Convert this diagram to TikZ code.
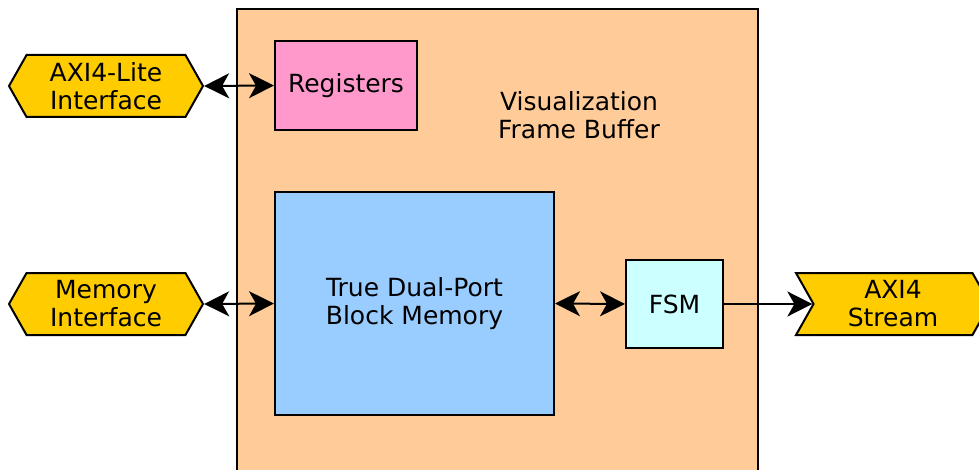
\documentclass[tikz,border=0pt]{standalone}
\usepackage{fontspec}
\setmainfont{DejaVu Sans}
\usepackage{tikz}
\usetikzlibrary{arrows.meta, shapes.symbols}

\definecolor{peach}{HTML}{FFCC99}
\definecolor{pinkreg}{HTML}{FF99CC}
\definecolor{bluemem}{HTML}{99CCFF}
\definecolor{cyanfsm}{HTML}{CCFFFF}
\definecolor{gold}{HTML}{FFCC00}

\tikzset{
  box/.style={draw, line width=2pt, inner sep=0pt, align=center},
  port/.style={draw, line width=2pt, fill=gold, signal, signal pointer angle=121,
    minimum width=194pt, minimum height=62pt, inner sep=0pt, align=center},
  link/.style={line width=2pt, -{Stealth[length=25pt,width=25pt,inset=7pt]}},
  dlink/.style={line width=2pt, {Stealth[length=25pt,width=25pt,inset=7pt]}-{Stealth[length=25pt,width=25pt,inset=7pt]}}
}

\begin{document}
\begin{tikzpicture}[x=1pt, y=-1pt, font=\fontsize{25}{28}\selectfont]
    \useasboundingbox (0,0) rectangle (979,470);
    \node[box, fill=peach, minimum width=521pt, minimum height=471pt] (frame) at (497.5,244.5) {};
    \node[align=center] (title) at (579,115) {Visualization\\Frame Buffer};
    \node[box, fill=pinkreg, minimum width=142pt, minimum height=89pt] (regs) at (346,85.5) {Registers};
    \node[box, fill=bluemem, minimum width=279pt, minimum height=223pt] (bram) at (414.5,303.5) {True Dual-Port\\Block Memory};
    \node[box, fill=cyanfsm, minimum width=97pt, minimum height=88pt] (fsm) at (674.5,304) {FSM};
    \node[port, signal to=east and west] (axilite) at (106,86) {AXI4-Lite\\Interface};
    \node[port, signal to=east and west] (memif) at (106,304) {Memory\\Interface};
    \node[port, signal to=east, signal from=west] (stream) at (893,304) {AXI4\\Stream};
    \draw[dlink] (axilite.east) -- (regs.west);
    \draw[dlink] (memif.east) -- (bram.west);
    \draw[dlink] (bram.east) -- (fsm.west);
    \draw[link] (fsm.east) -- (stream.west);
\end{tikzpicture}
\end{document}
